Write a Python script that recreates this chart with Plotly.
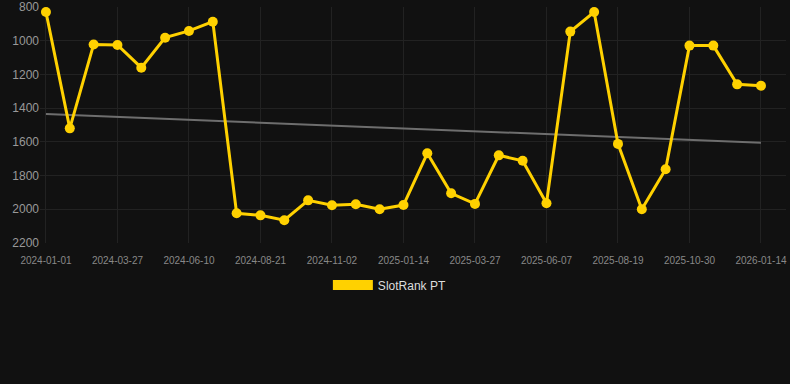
import plotly.graph_objects as go

dates = [
    "2024-01-01", "2024-01-29", "2024-02-27", "2024-03-27", "2024-04-21", "2024-05-16",
    "2024-06-10", "2024-07-04", "2024-07-28", "2024-08-21", "2024-09-14", "2024-10-08",
    "2024-11-02", "2024-11-26", "2024-12-20", "2025-01-14", "2025-02-07", "2025-03-03",
    "2025-03-27", "2025-04-20", "2025-05-14", "2025-06-07", "2025-07-01", "2025-07-25",
    "2025-08-19", "2025-09-12", "2025-10-06", "2025-10-30", "2025-11-24", "2025-12-19",
    "2026-01-14",
]
rank = [
    830, 1520, 1022, 1025, 1160, 982, 942, 887, 2024, 2036, 2065, 1947, 1976, 1970,
    2000, 1975, 1668, 1905, 1968, 1680, 1712, 1964, 946, 830, 1612, 2000, 1763,
    1029, 1029, 1259, 1267,
]
trend_dates = [dates[0], dates[-1]]
trend_vals = [1435, 1605]
tick_labels = dates[::3]
y_ticks = [800, 1000, 1200, 1400, 1600, 1800, 2000, 2200]
series_name = "SlotRank PT"

BG = "#111111"
GOLD = "#FFD100"

fig = go.Figure()
fig.add_trace(go.Scatter(
    x=trend_dates, y=trend_vals, mode="lines",
    line=dict(color="#6e6e6e", width=2), showlegend=False, hoverinfo="skip",
))
fig.add_trace(go.Scatter(
    x=dates, y=rank, mode="lines+markers", name=series_name,
    line=dict(color=GOLD, width=3), marker=dict(color=GOLD, size=10),
    showlegend=False,
))
fig.add_trace(go.Scatter(
    x=[None], y=[None], mode="lines", name=series_name,
    line=dict(color=GOLD, width=10), showlegend=True,
))

fig.update_layout(
    width=790, height=384,
    paper_bgcolor=BG, plot_bgcolor=BG,
    margin=dict(l=40, r=4, t=7, b=141, autoexpand=False),
    font=dict(family="Liberation Sans, Arial, sans-serif", color="#999999"),
    legend=dict(
        orientation="h", x=0.469, xanchor="center", y=-0.116, yanchor="top",
        font=dict(size=12, color="#dddddd"), itemwidth=40,
        bgcolor="rgba(0,0,0,0)",
    ),
)
fig.update_xaxes(
    type="category", categoryorder="array", categoryarray=dates,
    tickmode="array", tickvals=tick_labels, ticktext=tick_labels,
    range=[-0.25, 31.05],
    showgrid=True, gridcolor="#222222", gridwidth=1,
    tickfont=dict(size=10, color="#888888"), ticks="", zeroline=False,
    showline=False, ticklabelstandoff=10, automargin=False,
)
fig.update_yaxes(
    range=[2200, 800], tickmode="array", tickvals=y_ticks,
    showgrid=True, gridcolor="#222222", gridwidth=1,
    tickfont=dict(size=12, color="#999999"), ticks="", zeroline=False,
    showline=False, automargin=False,
)

fig.write_html("out.html", config={"displayModeBar": False})
with open("out.html", "r", encoding="utf-8") as f:
    html = f.read()
html = html.replace("<head>", "<head><style>html,body{margin:0;padding:0;background:#111111;}</style>", 1)
with open("out.html", "w", encoding="utf-8") as f:
    f.write(html)
